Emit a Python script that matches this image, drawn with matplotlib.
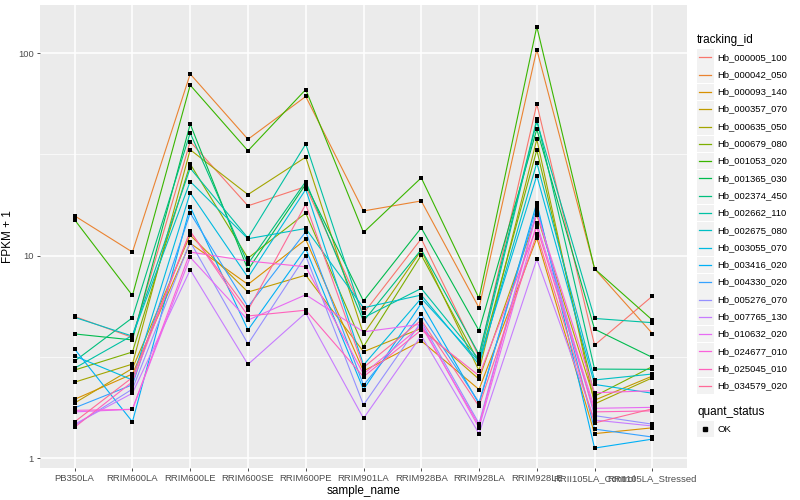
import matplotlib
matplotlib.use('Agg')
import matplotlib.pyplot as plt
from matplotlib.patches import Rectangle
from matplotlib.ticker import FixedLocator, NullFormatter
import numpy as np

plt.rcParams['font.family'] = ['Liberation Sans', 'DejaVu Sans']

samples = ['PB350LA', 'RRIM600LA', 'RRIM600LE', 'RRIM600SE', 'RRIM600PE', 'RRIM901LA',
           'RRIM928BA', 'RRIM928LA', 'RRIM928LE', 'RRII105LA_Control', 'RRII105LA_Stressed']

tracking_ids = ['Hb_000005_100', 'Hb_000042_050', 'Hb_000093_140', 'Hb_000357_070',
                'Hb_000635_050', 'Hb_000679_080', 'Hb_001053_020', 'Hb_001365_030',
                'Hb_002374_450', 'Hb_002662_110', 'Hb_002675_080', 'Hb_003055_070',
                'Hb_003416_020', 'Hb_004330_020', 'Hb_005276_070', 'Hb_007765_130',
                'Hb_010632_020', 'Hb_024677_010', 'Hb_025045_010', 'Hb_034579_020']

# FPKM + 1, одна строка на ген, столбцы в порядке samples
fpkm_000005 = [5.0, 3.94, 36.5, 17.6, 21.9, 5.18, 12.1, 3.16, 56, 3.61, 6.3]
fpkm_000042 = [15.7, 10.4, 78.8, 37.5, 61, 16.6, 18.6, 5.52, 104, 8.6, 4.12]
fpkm_000093 = [1.95, 2.6, 11.5, 7.2, 12.0, 2.69, 3.79, 2.18, 12.2, 1.32, 1.41]
fpkm_000357 = [1.87, 2.77, 12.6, 6.6, 8.0, 3.35, 4.37, 2.45, 15.9, 1.93, 2.54]
fpkm_000635 = [2.37, 2.91, 33.3, 20.0, 30.6, 4.09, 10.6, 2.7, 37.5, 1.85, 2.49]
fpkm_000679 = [2.72, 3.34, 28.3, 9.7, 16.2, 3.55, 10.05, 2.96, 33.2, 2.02, 2.83]
fpkm_001053 = [15.0, 6.35, 69.4, 32.9, 66, 13.0, 24.2, 6.15, 135, 8.6, 4.8]
fpkm_001365 = [4.1, 3.83, 44.6, 8.5, 22.5, 5.96, 13.7, 4.26, 42, 4.33, 3.14]
fpkm_002374 = [3.01, 4.93, 40.3, 9.1, 23.2, 4.74, 10.7, 3.25, 47, 2.75, 2.74]
fpkm_002662 = [2.78, 4.03, 27.0, 12.2, 35.5, 4.93, 6.88, 3.07, 46, 4.89, 4.66]
fpkm_002675 = [4.95, 4.0, 23.2, 12.1, 13.6, 5.52, 6.38, 2.9, 28.7, 2.43, 2.6]
fpkm_003055 = [3.19, 2.43, 20.4, 7.8, 21.2, 2.88, 6.15, 3.0, 24.8, 2.31, 2.09]
fpkm_003416 = [3.45, 1.51, 17.4, 4.29, 10.8, 2.18, 5.8, 1.85, 18.2, 1.12, 1.24]
fpkm_004330 = [1.77, 2.3, 16.2, 5.58, 13.1, 2.29, 5.12, 1.88, 17.4, 1.39, 1.27]
fpkm_005276 = [1.45, 2.19, 11.7, 3.66, 9.97, 1.83, 4.71, 1.48, 16.6, 1.62, 1.47]
fpkm_007765 = [1.47, 2.09, 8.5, 2.9, 5.21, 1.57, 4.02, 1.32, 9.6, 1.54, 1.44]
fpkm_010632 = [1.69, 1.74, 9.8, 4.8, 6.4, 4.2, 4.58, 1.41, 14.4, 1.76, 1.78]
fpkm_024677 = [1.72, 1.74, 10.4, 9.4, 8.8, 2.6, 4.5, 1.45, 16.2, 2.1, 2.15]
fpkm_025045 = [1.42, 2.38, 13.2, 5.03, 5.37, 2.52, 4.29, 2.55, 13.8, 1.69, 1.71]
fpkm_034579 = [1.51, 2.5, 13.1, 5.37, 17.9, 2.8, 4.8, 1.8, 12.8, 1.49, 1.75]

all_fpkm = [fpkm_000005, fpkm_000042, fpkm_000093, fpkm_000357, fpkm_000635,
            fpkm_000679, fpkm_001053, fpkm_001365, fpkm_002374, fpkm_002662,
            fpkm_002675, fpkm_003055, fpkm_003416, fpkm_004330, fpkm_005276,
            fpkm_007765, fpkm_010632, fpkm_024677, fpkm_025045, fpkm_034579]


def hcl_color(h, c=100, l=65):
    """ Цвет как в hue_pal() из ggplot2 (polar Luv -> sRGB) """
    xn, yn, zn = 95.047, 100.0, 108.883
    un = 4 * xn / (xn + 15 * yn + 3 * zn)
    vn = 9 * yn / (xn + 15 * yn + 3 * zn)
    y = yn * ((l + 16) / 116) ** 3
    u = c * np.cos(np.radians(h)) / (13 * l) + un
    v = c * np.sin(np.radians(h)) / (13 * l) + vn
    x = y * 9 * u / (4 * v)
    z = y * (12 - 3 * u - 20 * v) / (4 * v)
    xyz = np.array([x, y, z]) / 100
    m = np.array([[3.2406, -1.5372, -0.4986],
                  [-0.9689, 1.8758, 0.0415],
                  [0.0557, -0.2040, 1.0570]])
    rgb = m @ xyz
    rgb = np.where(rgb <= 0.0031308, 12.92 * rgb, 1.055 * np.clip(rgb, 0, None) ** (1 / 2.4) - 0.055)
    return tuple(np.clip(rgb, 0, 1))


n = len(tracking_ids)
colors = [hcl_color(15 + 360 * i / n) for i in range(n)]

fig = plt.figure(figsize=(8, 5), dpi=100)
ax = fig.add_axes([40 / 800, 32 / 500, 647 / 800, 463 / 500])
ax.set_facecolor('#EBEBEB')
for s in ax.spines.values():
    s.set_visible(False)

x = np.arange(len(samples))
for i, values in enumerate(all_fpkm):
    ax.plot(x, values, color=colors[i], lw=0.8, zorder=3)
for values in all_fpkm:
    ax.scatter(x, values, s=5, marker='s', color='black', zorder=4, linewidths=0)

ax.set_yscale('log')
ax.set_ylim(0.893, 172.6)
ax.set_xlim(-0.6, 10.6)
ax.yaxis.set_major_locator(FixedLocator([1, 10, 100]))
ax.yaxis.set_minor_locator(FixedLocator([10 ** 0.5, 10 ** 1.5]))
ax.yaxis.set_minor_formatter(NullFormatter())
ax.set_yticks([1, 10, 100])
ax.set_yticklabels(['1', '10', '100'])
ax.set_xticks(x)
ax.set_xticklabels(samples)
ax.grid(which='major', color='white', lw=1.1, zorder=0)
ax.grid(which='minor', axis='y', color='white', lw=0.5, zorder=0)
ax.set_axisbelow(True)
ax.tick_params(which='major', length=2.5, width=0.6, color='#333333',
               labelcolor='#4D4D4D', labelsize=6.8, pad=2)
ax.tick_params(which='minor', length=0)
ax.set_xlabel('sample_name', fontsize=8.5, labelpad=1)
ax.set_ylabel('FPKM + 1', fontsize=8.5, labelpad=3)

# Легенда tracking_id
fig.text(697 / 800, 1 - 40 / 500, 'tracking_id', fontsize=8.5, va='center', ha='left')
for i, name in enumerate(tracking_ids):
    yc = 57.3 + 17.3 * i
    fig.patches.append(Rectangle((697 / 800, 1 - (yc + 8.3) / 500), 16.5 / 800, 16.6 / 500,
                                 transform=fig.transFigure, facecolor='#F2F2F2', edgecolor='none'))
    fig.lines.append(plt.Line2D([699 / 800, 711 / 800], [1 - yc / 500, 1 - yc / 500],
                                transform=fig.transFigure, color=colors[i], lw=0.9))
    fig.text(717 / 800, 1 - yc / 500, name, fontsize=6.8, va='center', ha='left')

# Легенда quant_status
fig.text(697 / 800, 1 - 412 / 500, 'quant_status', fontsize=8.5, va='center', ha='left')
fig.patches.append(Rectangle((697 / 800, 1 - (429 + 8.3) / 500), 16.5 / 800, 16.6 / 500,
                             transform=fig.transFigure, facecolor='#F2F2F2', edgecolor='none'))
fig.lines.append(plt.Line2D([705 / 800], [1 - 429 / 500], transform=fig.transFigure,
                            marker='s', markersize=2.2, color='black', lw=0))
fig.text(717 / 800, 1 - 429 / 500, 'OK', fontsize=6.8, va='center', ha='left')

plt.savefig('out.png', dpi=100)
